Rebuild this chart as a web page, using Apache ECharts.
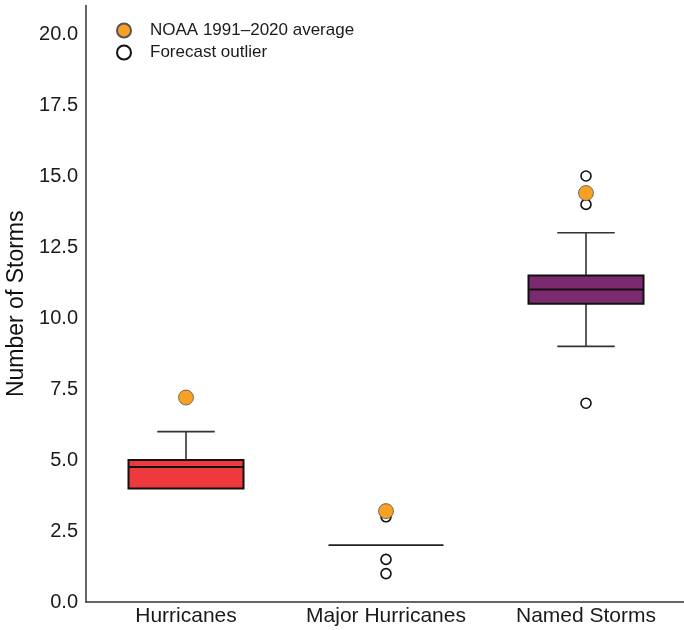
<!DOCTYPE html>
<html><head><meta charset="utf-8">
<script src="https://cdn.jsdelivr.net/npm/echarts@6/dist/echarts.min.js"></script>
<style>html,body{margin:0;padding:0;background:#fff}#c{width:684px;height:630px}</style>
</head><body><div id="c"></div>
<script>
const categories = ['Hurricanes', 'Major Hurricanes', 'Named Storms'];
// [min, q1, median, q3, max]
const boxStats = [
  [4, 4, 4.75, 5, 6],
  [2, 2, 2, 2, 2],
  [9, 10.5, 11, 11.5, 13]
];
const outliers = [
  [1, 3], [1, 1.5], [1, 1],
  [2, 15], [2, 14], [2, 7]
];
const noaaAvg = [7.2, 3.2, 14.4];
const yTicks = [0, 2.5, 5, 7.5, 10, 12.5, 15, 17.5, 20];

const boxColorList = ['#ee3a3e', '#ffffff', '#7a2a6e'];
const boxData = boxStats.map((s, i) => [i].concat(s));

const chart = echarts.init(document.getElementById('c'), null, {renderer: 'canvas'});
const font = '"Liberation Sans", Arial, sans-serif';

chart.setOption({
  animation: false,
  backgroundColor: '#fff',
  textStyle: {fontFamily: font},
  grid: {left: 86, right: -2, top: 5.6, bottom: 28, containLabel: false, outerBoundsMode: 'none'},
  legend: {
    orient: 'vertical', left: 111, top: 17, itemGap: 5,
    itemWidth: 14, itemHeight: 14,
    textStyle: {fontSize: 17, color: '#1a1a1a', fontFamily: font, padding: [0, 0, 0, 14]},
    data: [
      {name: 'NOAA 1991\u20132020 average', icon: 'circle'},
      {name: 'Forecast outlier', icon: 'circle'}
    ]
  },
  xAxis: {
    type: 'category', data: categories, boundaryGap: true,
    axisLine: {lineStyle: {color: '#333', width: 1.5}},
    axisTick: {show: false},
    axisLabel: {fontSize: 21, color: '#1a1a1a', margin: 4, fontFamily: font, interval: 0, hideOverlap: false}
  },
  yAxis: {
    type: 'value', min: 0, max: 21, interval: 2.5,
    name: 'Number of Storms', nameLocation: 'middle', nameGap: 50,
    nameTextStyle: {fontSize: 23, color: '#111', fontFamily: font},
    axisLine: {show: true, lineStyle: {color: '#333', width: 1.5}},
    axisTick: {show: false},
    splitLine: {show: false},
    axisLabel: {
      fontSize: 20, color: '#1a1a1a', margin: 8, fontFamily: font,
      formatter: v => (v <= 20 && yTicks.indexOf(v) >= 0) ? v.toFixed(1) : ''
    }
  },
  series: [
    {
      type: 'custom', name: 'box',
      data: boxData,
      encode: {x: 0, y: [1, 2, 3, 4, 5]},
      z: 2,
      renderItem: function (params, api) {
        const i = api.value(0);
        const bw = api.size([1, 0])[0] * 0.575;
        const cw = bw / 2;
        const pMin = api.coord([i, api.value(1)]);
        const pQ1 = api.coord([i, api.value(2)]);
        const pMed = api.coord([i, api.value(3)]);
        const pQ3 = api.coord([i, api.value(4)]);
        const pMax = api.coord([i, api.value(5)]);
        const x = pMed[0];
        const wl = {stroke: '#333', lineWidth: 1.6};
        const children = [];
        if (pMax[1] < pQ3[1]) {
          children.push({type: 'line', shape: {x1: x, y1: pMax[1], x2: x, y2: pQ3[1]}, style: wl});
          children.push({type: 'line', shape: {x1: x - cw / 2, y1: pMax[1], x2: x + cw / 2, y2: pMax[1]}, style: wl});
        }
        if (pMin[1] > pQ1[1]) {
          children.push({type: 'line', shape: {x1: x, y1: pQ1[1], x2: x, y2: pMin[1]}, style: wl});
          children.push({type: 'line', shape: {x1: x - cw / 2, y1: pMin[1], x2: x + cw / 2, y2: pMin[1]}, style: wl});
        }
        const h = pQ1[1] - pQ3[1];
        if (h > 0.5) {
          children.push({type: 'rect', shape: {x: x - bw / 2, y: pQ3[1], width: bw, height: h},
            style: {fill: boxColorList[i], stroke: '#111', lineWidth: 2}});
          children.push({type: 'line', shape: {x1: x - bw / 2, y1: pMed[1], x2: x + bw / 2, y2: pMed[1]},
            style: {stroke: '#111', lineWidth: 2}});
        } else {
          children.push({type: 'line', shape: {x1: x - bw / 2, y1: pMed[1], x2: x + bw / 2, y2: pMed[1]},
            style: {stroke: '#222', lineWidth: 1.8}});
        }
        return {type: 'group', children: children};
      }
    },
    {
      type: 'scatter', name: 'Forecast outlier',
      data: outliers, symbol: 'circle', symbolSize: 10, z: 3,
      itemStyle: {color: '#fff', borderColor: '#111', borderWidth: 1.6, opacity: 1}
    },
    {
      type: 'scatter', name: 'NOAA 1991\u20132020 average',
      data: noaaAvg.map((v, i) => [i, v]), symbol: 'circle', symbolSize: 15, z: 4,
      itemStyle: {color: '#f6a024', borderColor: '#555', borderWidth: 0.8, opacity: 1}
    }
  ]
});
</script>
</body></html>
